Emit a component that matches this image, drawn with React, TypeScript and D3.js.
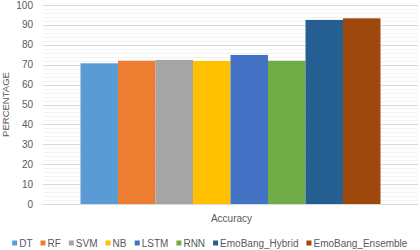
import { useEffect, useRef } from "react";
import * as d3 from "d3";

const models = ["DT", "RF", "SVM", "NB", "LSTM", "RNN", "EmoBang_Hybrid", "EmoBang_Ensemble"];
const accuracy = [70.7, 72.0, 72.4, 71.9, 74.9, 72.0, 92.5, 93.3];
const colors = ["#5B9BD5", "#ED7D31", "#A5A5A5", "#FFC000", "#4472C4", "#70AD47", "#255E91", "#9E480E"];
const yTicks = [0, 10, 20, 30, 40, 50, 60, 70, 80, 90, 100];
const category = "Accuracy";

export default function App() {
  const ref = useRef<SVGSVGElement | null>(null);

  useEffect(() => {
    const svgEl = ref.current;
    if (!svgEl) return;
    const svg = d3.select(svgEl);
    svg.selectAll("*").remove();

    const width = 420;
    const marginLeft = 43;
    const marginRight = 2;
    const marginTop = 5;
    const plotBottom = 204;
    const font = "'Liberation Sans', Arial, sans-serif";
    const muted = "#595959";

    const y = d3.scaleLinear().domain([0, 100]).range([plotBottom, marginTop]);
    const x = d3
      .scaleBand<string>()
      .domain(models)
      .range([marginLeft, width - marginRight])
      .paddingInner(0)
      .paddingOuter(1.0);

    // minor gridlines
    svg
      .append("g")
      .selectAll("line")
      .data(d3.range(0, 101, 2).filter((v) => v % 10 !== 0))
      .join("line")
      .attr("x1", marginLeft)
      .attr("x2", width - marginRight)
      .attr("y1", (v) => Math.round(y(v)) + 0.5)
      .attr("y2", (v) => Math.round(y(v)) + 0.5)
      .attr("stroke", "#f3f3f3")
      .attr("stroke-width", 1);

    svg
      .append("g")
      .selectAll("line")
      .data(yTicks)
      .join("line")
      .attr("x1", marginLeft)
      .attr("x2", width - marginRight)
      .attr("y1", (v) => Math.round(y(v)) + 0.5)
      .attr("y2", (v) => Math.round(y(v)) + 0.5)
      .attr("stroke", "#d9d9d9")
      .attr("stroke-width", 1);

    svg
      .append("g")
      .selectAll("text")
      .data(yTicks)
      .join("text")
      .attr("x", marginLeft - 10)
      .attr("y", (v) => y(v) + 3.5)
      .attr("text-anchor", "end")
      .attr("font-family", font)
      .attr("font-size", 10)
      .attr("fill", muted)
      .text((v) => String(v));

    svg
      .append("g")
      .selectAll("rect")
      .data(models)
      .join("rect")
      .attr("x", (m) => x(m) ?? 0)
      .attr("y", (_m, i) => y(accuracy[i]))
      .attr("width", x.bandwidth())
      .attr("height", (_m, i) => plotBottom - y(accuracy[i]))
      .attr("fill", (_m, i) => colors[i]);

    const first = x(models[0]) ?? 0;
    const last = (x(models[models.length - 1]) ?? 0) + x.bandwidth();
    svg
      .append("text")
      .attr("x", (first + last) / 2 + 1)
      .attr("y", 222)
      .attr("text-anchor", "middle")
      .attr("font-family", font)
      .attr("font-size", 10)
      .attr("fill", muted)
      .text(category);

    svg
      .append("text")
      .attr("transform", `translate(9,${(marginTop + plotBottom) / 2}) rotate(-90)`)
      .attr("text-anchor", "middle")
      .attr("font-family", font)
      .attr("font-size", 9.5)
      .attr("fill", muted)
      .text("PERCENTAGE");

    // legend
    const legend = svg.append("g");
    const items = legend.selectAll("g").data(models).join("g");
    items
      .append("rect")
      .attr("width", 5)
      .attr("height", 5)
      .attr("y", -6)
      .attr("fill", (_m, i) => colors[i]);
    items
      .append("text")
      .attr("x", 7)
      .attr("y", 0)
      .attr("font-family", font)
      .attr("font-size", 10)
      .attr("fill", muted)
      .text((m) => m);
    let cursor = 0;
    const gap = 8;
    items.each(function () {
      const g = d3.select(this);
      g.attr("transform", `translate(${cursor},0)`);
      const w = (g.select("text").node() as SVGTextElement).getBBox().width;
      cursor += 7 + w + gap;
    });
    const total = cursor - gap;
    legend.attr("transform", `translate(${(width - total) / 2},246.5)`);
  }, []);

  return (
    <div style={{ position: "absolute", left: 0, top: 0, width: 420, height: 250 }}>
      <svg ref={ref} width={420} height={250} style={{ display: "block", background: "#fff" }} />
    </div>
  );
}
